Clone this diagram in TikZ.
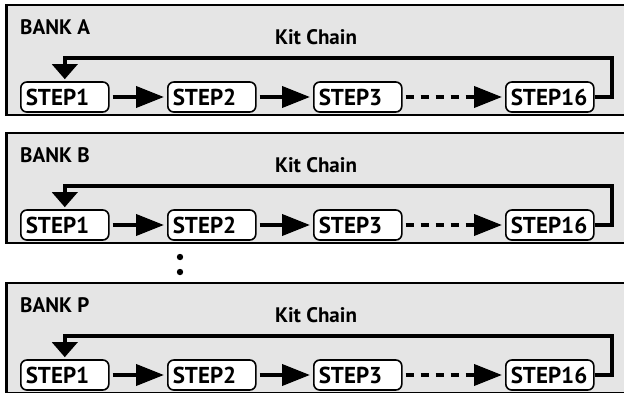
\documentclass[tikz,border=0pt]{standalone}
\usepackage{fontspec}
\setmainfont{PT Sans}
\usetikzlibrary{arrows.meta}

\begin{document}
\begin{tikzpicture}[x=1pt,y=-1pt,
  panel/.style={draw=black,line width=2.5pt,fill=black!10},
  stepbox/.style={draw,line width=1.6pt,fill=white,rounded corners=6pt,
    minimum height=30pt,text width=78pt,inner xsep=5pt,inner ysep=0pt,
    align=left,anchor=west,font=\bfseries\fontsize{23}{23}\selectfont},
  label/.style={inner sep=0pt,font=\bfseries\fontsize{21}{21}\selectfont},
  flow/.style={line width=4pt,shorten <=3pt,shorten >=3pt,
    -{Triangle[length=28pt,width=21pt]}},
  back/.style={line width=4pt,shorten >=2pt,
    -{Triangle[length=15pt,width=25pt]}}]
  \useasboundingbox (0,0) rectangle (624,392);
  \clip (0,0) rectangle (624,392);
  \foreach \bank/\top in {A/5,B/133,P/283}{%
    \draw[panel] (6.5,\top) rectangle (640,\top+110);
    \node[label,anchor=west] (bank-\bank) at (20,\top+22) {BANK \bank};
    \node[label] (chain-\bank) at (316,\top+32) {Kit Chain};
    % steps
    \node[stepbox] (s1-\bank) at (20,\top+92) {STEP1};
    \node[stepbox] (s2-\bank) at (167,\top+92) {STEP2};
    \node[stepbox] (s3-\bank) at (313,\top+92) {STEP3};
    \node[stepbox] (s16-\bank) at (505,\top+92) {STEP16};
    \draw[flow] (s1-\bank) -- (s2-\bank);
    \draw[flow] (s2-\bank) -- (s3-\bank);
    \draw[flow,dash pattern=on 8pt off 7pt] (s3-\bank) -- (s16-\bank);
    \draw[back] (s16-\bank.east) -- ++(17,0) -- ++(0,-39) -| (s1-\bank.north);
  }
  \fill (180,257) circle (3.2);
  \fill (180,272) circle (3.2);
\end{tikzpicture}
\end{document}
